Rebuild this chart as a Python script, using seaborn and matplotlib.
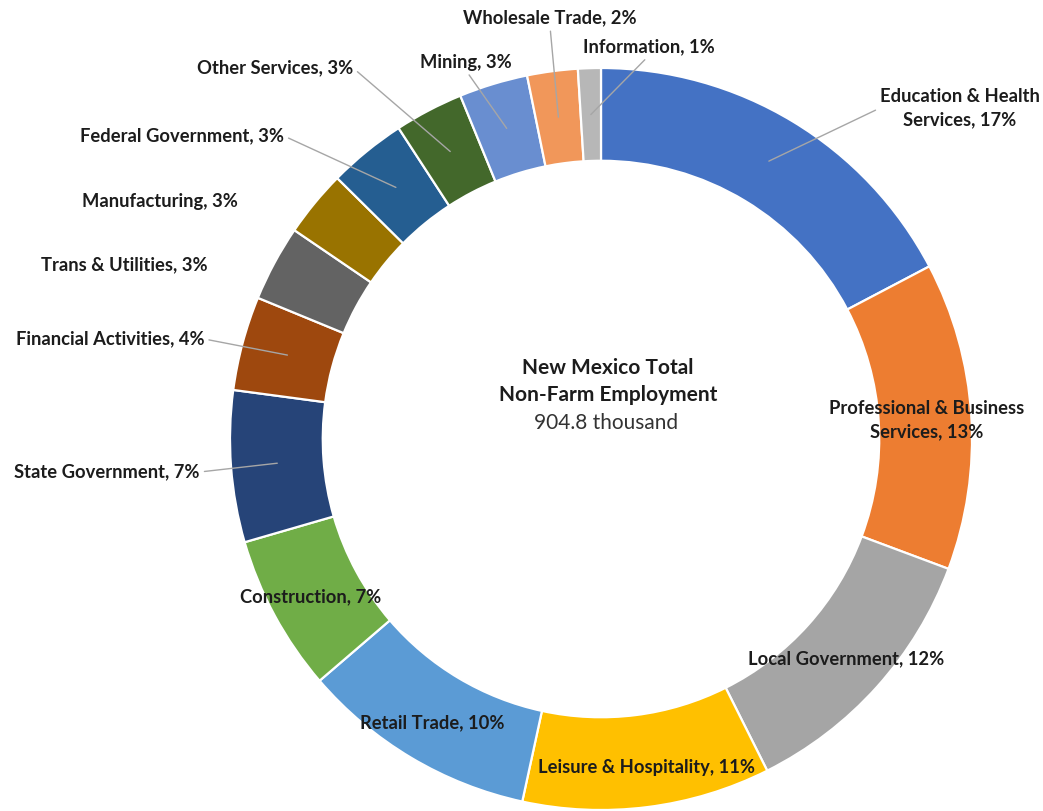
import matplotlib
matplotlib.use("Agg")
import matplotlib.pyplot as plt
import numpy as np
import seaborn as sns

# New Mexico non-farm employment by sector, thousands of jobs
sectors = [
    "Education & Health\nServices",
    "Professional & Business\nServices",
    "Local Government",
    "Leisure & Hospitality",
    "Retail Trade",
    "Construction",
    "State Government",
    "Financial Activities",
    "Trans & Utilities",
    "Manufacturing",
    "Federal Government",
    "Other Services",
    "Mining",
    "Wholesale Trade",
    "Information",
]
employment = [156.5, 121.2, 107.8, 97.7, 93.2, 61.6, 59.7, 37.1,
              29.9, 26.2, 30.8, 27.1, 27.1, 19.9, 9.0]
sector_colors = ["#4472C4", "#ED7D31", "#A5A5A5", "#FFC000", "#5B9BD5",
                 "#70AD47", "#264478", "#9E480E", "#636363", "#997300",
                 "#255E91", "#43682B", "#698ED0", "#F1975A", "#B7B7B7"]

# label placement in canvas pixels (x, y from top) and where the leader leaves the text
label_px = [(960, 108), (927, 420), (846, 659), (646, 768), (432, 723),
            (311, 597), (107, 472), (110, 339), (124, 265), (160, 201),
            (182, 136), (275, 68), (466, 62), (550, 18), (649, 47)]
leader_relpos = [(0.0, 0.5), None, None, None, None,
                 None, (1.0, 0.5), (1.0, 0.5), None, None,
                 (1.0, 0.5), (1.0, 0.5), (0.5, 0.0), (0.5, 0.0), (0.5, 0.0)]

sns.set_theme(style="white")
plt.rcParams["font.family"] = ["Lato", "DejaVu Sans"]

W, H, DPI = 1043, 811, 100
R_PX = 371.0
CX, CY = 601.0, 439.0
RING = 0.25

fig = plt.figure(figsize=(W / DPI, H / DPI), dpi=DPI)
ax = fig.add_axes([0, 0, 1, 1])

palette = sns.color_palette(sector_colors)
wedges, _ = ax.pie(employment, colors=palette, startangle=90, counterclock=False,
                   radius=1.0,
                   wedgeprops=dict(width=RING, edgecolor="white", linewidth=1.6))

ax.set_xlim(-CX / R_PX, (W - CX) / R_PX)
ax.set_ylim(-(H - CY) / R_PX, CY / R_PX)
ax.set_aspect("equal")
ax.axis("off")


def to_data(x, y):
    return ((x - CX) / R_PX, (CY - y) / R_PX)


total = sum(employment)
text_color = "#1c1c1c"
for w, name, val, pos, rel in zip(wedges, sectors, employment, label_px, leader_relpos):
    label = f"{name}, {val / total * 100:.0f}%"
    mid = np.deg2rad((w.theta1 + w.theta2) / 2)
    r_mid = 1.0 - RING / 2
    end = (r_mid * np.cos(mid), r_mid * np.sin(mid))
    kw = dict(ha="center", va="center", fontsize=13.2, fontweight="bold",
              color=text_color, linespacing=1.5)
    if rel is None:
        ax.text(*to_data(*pos), label, **kw)
    else:
        ax.annotate(label, xy=end, xytext=to_data(*pos), textcoords="data",
                    arrowprops=dict(arrowstyle="-", color="#a6a6a6", lw=1.0,
                                    relpos=rel, shrinkA=1, shrinkB=0),
                    **kw)

# centre caption
ax.text(*to_data(608, 368), "New Mexico Total", ha="center", va="center",
        fontsize=15, fontweight="bold", color=text_color)
ax.text(*to_data(608, 395), "Non-Farm Employment", ha="center", va="center",
        fontsize=15, fontweight="bold", color=text_color)
ax.text(*to_data(606, 423), f"{total:.1f} thousand", ha="center", va="center",
        fontsize=15, color="#333333")

fig.savefig("out.png", dpi=DPI, facecolor="white")
